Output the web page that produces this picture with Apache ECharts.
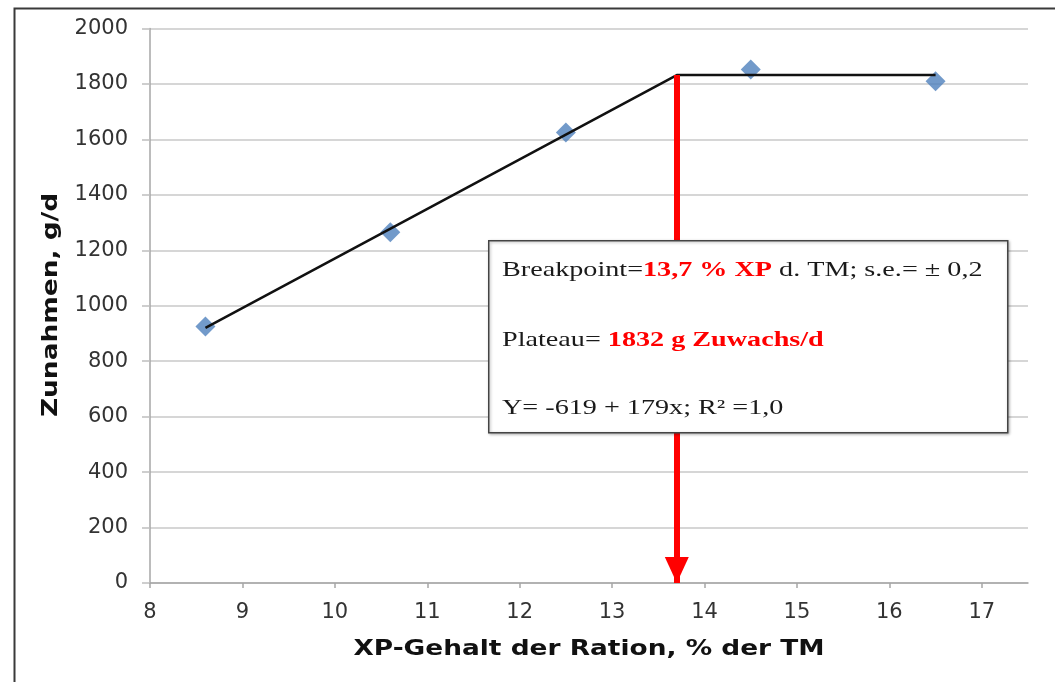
<!DOCTYPE html>
<html>
<head>
<meta charset="utf-8">
<script src="https://cdn.jsdelivr.net/npm/echarts@6/dist/echarts.min.js"></script>
<style>html,body{margin:0;padding:0;background:#fff}#c{width:1055px;height:682px}</style>
</head>
<body>
<div id="c"></div>
<script>
// Observed data (XP content % of DM vs daily gain g/d)
const xValues = [8.6, 10.6, 12.5, 14.5, 16.5];
const yValues = [925, 1265, 1625, 1852, 1810];
// Broken-line fit
const fitX = [8.6, 13.7, 16.5];
const fitY = [920, 1832, 1832];
// Breakpoint arrow
const breakpointX = 13.7;
const plateauY = 1832;
// Axis ticks
const xTicks = [8, 9, 10, 11, 12, 13, 14, 15, 16, 17];
const xTitle = 'XP-Gehalt der Ration, % der TM';
const yTitle = 'Zunahmen, g/d';

const chart = echarts.init(document.getElementById('c'));
const sans = 'DejaVu Sans';
const serif = 'Liberation Serif';
const stretchTitle = 1.2;
const stretchBox = 1.28;

const richBox = {
  n: { fontFamily: serif, fontSize: 22, fill: '#1a1a1a' },
  r: { fontFamily: serif, fontSize: 22, fontWeight: 'bold', fill: '#ff0000' }
};

chart.setOption({
  animation: false,
  backgroundColor: '#fff',
  grid: { left: 150, top: 28.5, right: 27, bottom: 99 },
  xAxis: {
    type: 'value', min: 8, max: 17.5, interval: 1,
    axisLine: { show: true, lineStyle: { color: '#a6a6a6', width: 1.5 } },
    axisTick: { show: true, length: 5, customValues: xTicks, lineStyle: { color: '#a6a6a6', width: 1.5 } },
    axisLabel: { customValues: xTicks, margin: 19, fontFamily: sans, fontSize: 21, color: '#333' },
    splitLine: { show: false }
  },
  yAxis: {
    type: 'value', min: 0, max: 2000, interval: 200,
    axisLine: { show: true, lineStyle: { color: '#a6a6a6', width: 1.5 } },
    axisTick: { show: true, length: 8, lineStyle: { color: '#bfbfbf', width: 1.5 } },
    axisLabel: { margin: 22, fontFamily: sans, fontSize: 21, color: '#333', formatter: v => String(v) },
    splitLine: { show: true, lineStyle: { color: '#c8c8c8', width: 1.5 } }
  },
  series: [
    {
      type: 'scatter', z: 2,
      data: xValues.map((x, i) => [x, yValues[i]]),
      symbol: 'diamond', symbolSize: 20,
      itemStyle: { color: '#4f81bd' }
    },
    {
      type: 'line', z: 3,
      data: fitX.map((x, i) => [x, fitY[i]]),
      symbol: 'none', lineStyle: { color: '#111', width: 2.5 },
      markLine: {
        silent: true, animation: false,
        symbol: ['none', 'triangle'], symbolSize: [24, 26],
        symbolOffset: [0, [0, 13]],
        label: { show: false },
        lineStyle: { color: '#ff0000', width: 6, type: 'solid' },
        data: [[{ coord: [breakpointX, plateauY] }, { coord: [breakpointX, 0] }]]
      }
    }
  ],
  graphic: [
    { type: 'rect', left: 12, top: 6, shape: { width: 1100, height: 720 }, style: { fill: 'none', stroke: '#3a3a3a', lineWidth: 2 }, z: 10 },
    // axis titles
    { type: 'text', x: 589, y: 649, scaleX: stretchTitle, z: 10, style: {
        text: xTitle, fontFamily: sans, fontWeight: 'bold', fontSize: 22, fill: '#111',
        align: 'center', verticalAlign: 'middle' } },
    { type: 'text', x: 51, y: 305, rotation: Math.PI / 2, scaleX: stretchTitle, z: 10, style: {
        text: yTitle, fontFamily: sans, fontWeight: 'bold', fontSize: 22, fill: '#111',
        align: 'center', verticalAlign: 'middle' } },
    // annotation box
    { type: 'rect', left: 488, top: 240, shape: { width: 519, height: 192 }, style: { fill: '#fff', stroke: '#444', lineWidth: 1.5, shadowBlur: 3, shadowOffsetX: 1, shadowOffsetY: 1, shadowColor: 'rgba(0,0,0,0.3)' }, z: 20 },
    { type: 'text', x: 502, y: 270, scaleX: stretchBox, z: 21, style: {
        text: '{n|Breakpoint=}{r|13,7 % XP}{n| d. TM; s.e.= ± 0,2}', rich: richBox,
        align: 'left', verticalAlign: 'middle' } },
    { type: 'text', x: 502, y: 340, scaleX: stretchBox, z: 21, style: {
        text: '{n|Plateau= }{r|1832 g Zuwachs/d}', rich: richBox,
        align: 'left', verticalAlign: 'middle' } },
    { type: 'text', x: 502, y: 408, scaleX: stretchBox, z: 21, style: {
        text: 'Y= -619 + 179x; R² =1,0', fontFamily: serif, fontSize: 22, fill: '#1a1a1a',
        align: 'left', verticalAlign: 'middle' } }
  ]
});
</script>
</body>
</html>
